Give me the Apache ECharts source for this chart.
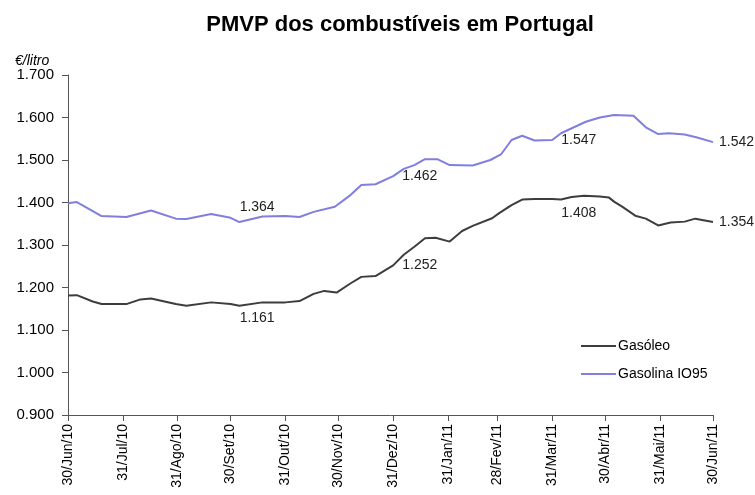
<!DOCTYPE html>
<html>
<head>
<meta charset="utf-8">
<script src="https://cdn.jsdelivr.net/npm/echarts@6/dist/echarts.min.js"></script>
<style>
  html, body { margin: 0; padding: 0; background: #fff; }
  #chart { width: 755px; height: 495px; }
</style>
</head>
<body>
<div id="chart"></div>
<script>
// dias desde 30/Jun/10 das marcas do eixo
var tickDays = [0, 31, 62, 92, 123, 153, 184, 215, 243, 274, 304, 335, 365];
var tickLabels = ['30/Jun/10', '31/Jul/10', '31/Ago/10', '30/Set/10', '31/Out/10', '30/Nov/10',
  '31/Dez/10', '31/Jan/11', '28/Fev/11', '31/Mar/11', '30/Abr/11', '31/Mai/11', '30/Jun/11'];

// Gasóleo: [dia, €/litro]
var gasoleo = [
  [0, 1.181], [5, 1.182], [14, 1.167], [19, 1.161], [33, 1.161], [41, 1.172], [47, 1.174],
  [61, 1.161], [67, 1.157], [81, 1.165], [92, 1.161], [97, 1.157], [110, 1.165], [123, 1.165],
  [131, 1.168], [139, 1.185], [145, 1.192], [152, 1.188], [160, 1.210], [166, 1.225],
  [174, 1.227], [184, 1.252], [190, 1.277], [196, 1.296], [202, 1.316], [208, 1.317],
  [216, 1.308], [223, 1.333], [229, 1.345], [240, 1.363], [244, 1.375], [251, 1.394],
  [257, 1.407], [264, 1.408], [274, 1.408], [279, 1.407], [285, 1.413], [292, 1.416],
  [301, 1.414], [306, 1.412], [309, 1.402], [314, 1.389], [321, 1.369], [327, 1.362],
  [334, 1.346], [341, 1.353], [349, 1.355], [355, 1.362], [365, 1.354]
];

// Gasolina IO95: [dia, €/litro]
var gasolina = [
  [0, 1.398], [5, 1.401], [19, 1.368], [33, 1.366], [47, 1.381], [61, 1.362], [67, 1.361],
  [81, 1.373], [92, 1.364], [97, 1.354], [110, 1.367], [123, 1.368], [131, 1.366],
  [139, 1.378], [151, 1.390], [160, 1.418], [166, 1.441], [174, 1.443], [184, 1.462],
  [190, 1.479], [196, 1.488], [202, 1.502], [209, 1.502], [216, 1.488], [229, 1.487],
  [239, 1.500], [245, 1.513], [251, 1.547], [257, 1.557], [264, 1.546], [274, 1.547],
  [279, 1.563], [293, 1.590], [301, 1.600], [309, 1.606], [320, 1.604], [327, 1.577],
  [334, 1.561], [340, 1.563], [349, 1.560], [356, 1.553], [365, 1.542]
];

// pontos com etiqueta (fim de trimestre) e deslocamento vertical das etiquetas
var labelDays = [92, 184, 274, 365];
var gasoleoLabelDy = [14, 0, 14, 0];
var gasolinaLabelDy = [-11, 0, 0, 0];

function withLabels(data, dys) {
  return data.map(function (d) {
    var i = labelDays.indexOf(d[0]);
    if (i < 0) return d;
    return {
      value: d,
      symbol: 'circle',
      symbolSize: 0.1,
      label: { show: true, position: 'right', distance: d[0] === 365 ? 6 : 9, offset: [0, dys[i]],
        formatter: function (p) { return p.value[1].toFixed(3); } }
    };
  });
}

var chart = echarts.init(document.getElementById('chart'));
chart.setOption({
  animation: false,
  title: [
    { text: 'PMVP dos combustíveis em Portugal', left: 395, top: 9, textAlign: 'center',
      textStyle: { fontFamily: 'Liberation Sans', fontSize: 22, fontWeight: 'bold', color: '#000' } },
    { text: '€/litro', left: 10, top: 49,
      textStyle: { fontFamily: 'Liberation Sans', fontSize: 14, fontStyle: 'italic', fontWeight: 'normal', color: '#000' } }
  ],
  grid: { left: 68, right: 42, top: 75, bottom: 80 },
  legend: {
    orient: 'vertical', left: 575, top: 334, itemWidth: 35, itemHeight: 2, itemGap: 14,
    textStyle: { fontFamily: 'Liberation Sans', fontSize: 14, color: '#000', padding: [0, 0, 0, -3] },
    data: ['Gasóleo', 'Gasolina IO95']
  },
  xAxis: {
    type: 'value', min: 0, max: 365,
    axisLine: { lineStyle: { color: '#555', width: 1 } },
    axisTick: { show: true, length: 6, lineStyle: { color: '#555' }, customValues: tickDays },
    splitLine: { show: false },
    axisLabel: {
      customValues: tickDays, rotate: 90, margin: 9, color: '#000',
      fontFamily: 'Liberation Sans', fontSize: 14,
      formatter: function (v) { return tickLabels[tickDays.indexOf(v)]; }
    }
  },
  yAxis: {
    type: 'value', min: 0.9, max: 1.7, interval: 0.1,
    axisLine: { show: true, lineStyle: { color: '#555', width: 1 } },
    axisTick: { show: true, length: 6, lineStyle: { color: '#555' } },
    splitLine: { show: false },
    axisLabel: {
      margin: 14, color: '#000', fontFamily: 'Liberation Sans', fontSize: 15,
      formatter: function (v) { return v.toFixed(3); }
    }
  },
  series: [
    {
      name: 'Gasóleo', type: 'line', symbol: 'none', data: withLabels(gasoleo, gasoleoLabelDy),
      lineStyle: { color: '#3d3d3d', width: 2 }, itemStyle: { color: '#3d3d3d' },
      label: { fontFamily: 'Liberation Sans', fontSize: 14, color: '#222' }
    },
    {
      name: 'Gasolina IO95', type: 'line', symbol: 'none', data: withLabels(gasolina, gasolinaLabelDy),
      lineStyle: { color: '#7f7fdf', width: 2 }, itemStyle: { color: '#7f7fdf' },
      label: { fontFamily: 'Liberation Sans', fontSize: 14, color: '#222' }
    }
  ]
});
</script>
</body>
</html>
